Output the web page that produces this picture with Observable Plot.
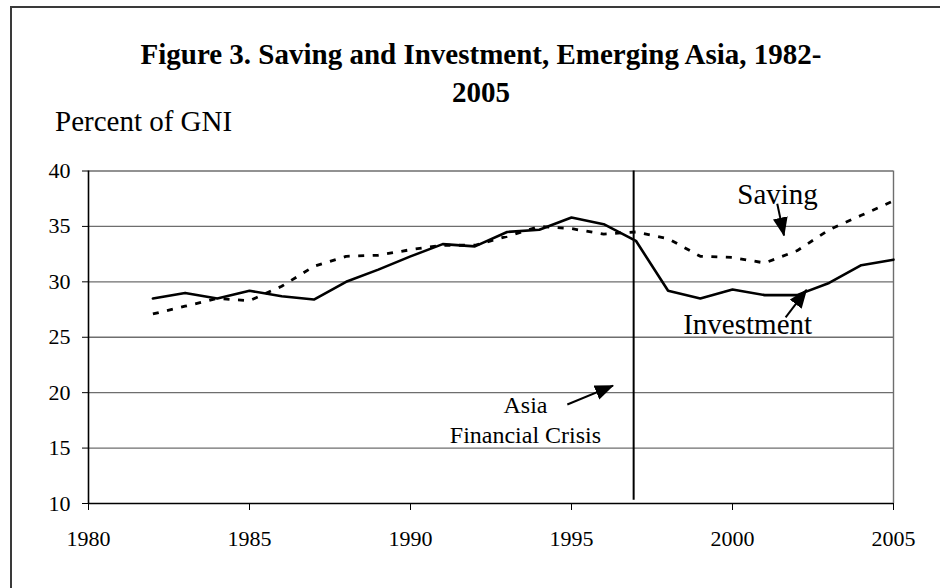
<!DOCTYPE html>
<html>
<head>
<meta charset="utf-8">
<script src="https://cdn.jsdelivr.net/npm/d3@7"></script>
<script src="https://cdn.jsdelivr.net/npm/@observablehq/plot@0.6"></script>
<style>
  html, body { margin: 0; padding: 0; background: #fff; }
  #wrap { position: relative; width: 940px; height: 588px; overflow: hidden; font-family: "Liberation Serif", "Times New Roman", serif; color: #000; }
  #frame { position: absolute; left: 10px; top: 6px; width: 1000px; height: 700px; border-left: 2px solid #3a3a3a; border-top: 2px solid #3a3a3a; }
  #title { position: absolute; left: 0; top: 35px; width: 962px; text-align: center; font-weight: bold; font-size: 29px; line-height: 38px; }
  #ylabel { position: absolute; left: 55px; top: 107px; font-size: 29px; line-height: 29px; white-space: nowrap; }
  #chart { position: absolute; left: 0; top: 0; }
</style>
</head>
<body>
<div id="wrap">
  <div id="frame"></div>
  <div id="chart"></div>
  <div id="title">Figure 3. Saving and Investment, Emerging Asia, 1982-<br>2005</div>
  <div id="ylabel">Percent of GNI</div>
</div>
<script>
// ---- data ----
const years = [1982, 1983, 1984, 1985, 1986, 1987, 1988, 1989, 1990, 1991, 1992, 1993,
               1994, 1995, 1996, 1997, 1998, 1999, 2000, 2001, 2002, 2003, 2004, 2005];
const investment = [28.5, 29.0, 28.5, 29.2, 28.7, 28.4, 30.0, 31.1, 32.3, 33.4, 33.2, 34.5,
                    34.7, 35.8, 35.2, 33.7, 29.2, 28.5, 29.3, 28.8, 28.8, 29.9, 31.5, 32.0];
const saving = [27.1, 27.8, 28.5, 28.3, 29.6, 31.4, 32.3, 32.4, 32.9, 33.3, 33.3, 34.1,
                35.0, 34.8, 34.3, 34.5, 33.9, 32.3, 32.2, 31.7, 32.8, 34.7, 36.0, 37.3];
const xTicks = [1980, 1985, 1990, 1995, 2000, 2005];
const yTicks = [10, 15, 20, 25, 30, 35, 40];
const gridValues = [15, 20, 25, 30, 35, 40];

const crisisYear = [1996.93];
const crisisRange = [10.3, 40];

// annotation labels (data coordinates)
const labelText = ["Saving", "Investment", "Asia\nFinancial Crisis"];
const labelX = [2001.4, 2000.47, 1993.57];
const labelY = [37.9, 26.17, 17.72];
const labelSize = [29, 29, 24];

// annotation arrows (data coordinates)
const arrowX1 = [2001.39, 2001.65, 1994.87];
const arrowY1 = [37.04, 26.8, 18.93];
const arrowX2 = [2001.6, 2002.3, 1996.29];
const arrowY2 = [34.18, 29.28, 20.64];

// ---- tables built from arrays ----
const invData = years.map((y, i) => ({year: y, value: investment[i]}));
const savData = years.map((y, i) => ({year: y, value: saving[i]}));
const labels = labelText.map((t, i) => ({text: t, x: labelX[i], y: labelY[i], size: labelSize[i]}));
const arrows = arrowX1.map((x1, i) => ({x1, y1: arrowY1[i], x2: arrowX2[i], y2: arrowY2[i]}));

const plot = Plot.plot({
  width: 940,
  height: 588,
  marginLeft: 88,
  marginRight: 47,
  marginTop: 170.5,
  marginBottom: 85,
  style: {fontFamily: "'Liberation Serif', 'Times New Roman', serif", fontSize: "22px", background: "transparent", color: "#000", overflow: "visible"},
  x: {domain: [1980, 2005], ticks: xTicks, tickFormat: d => String(d), tickSize: 7, tickPadding: 20, label: null},
  y: {domain: [10, 40], ticks: yTicks, tickSize: 6, tickPadding: 12, label: null},
  marks: [
    Plot.ruleY(gridValues, {stroke: "#6e6e6e", strokeWidth: 1.4}),
    Plot.ruleX([2005], {y1: 10, y2: 40, stroke: "#6e6e6e", strokeWidth: 1.4}),
    Plot.ruleY([10], {stroke: "#000", strokeWidth: 1.6}),
    Plot.ruleX([1980], {y1: 10, y2: 40, stroke: "#000", strokeWidth: 1.6}),
    Plot.ruleX(crisisYear, {y1: crisisRange[0], y2: crisisRange[1], stroke: "#000", strokeWidth: 2}),
    Plot.line(savData, {x: "year", y: "value", stroke: "#000", strokeWidth: 2.8, strokeDasharray: "6,8.5", strokeLinecap: "butt"}),
    Plot.line(invData, {x: "year", y: "value", stroke: "#000", strokeWidth: 2.6}),
    Plot.link(arrows, {x1: "x1", y1: "y1", x2: "x2", y2: "y2", stroke: "#000", strokeWidth: 2}),
    Plot.text(labels.filter(d => d.size === 29), {x: "x", y: "y", text: "text", fontSize: 29, fill: "#000"}),
    Plot.text(labels.filter(d => d.size === 24), {x: "x", y: "y", text: "text", fontSize: 24, lineHeight: 1.25, fill: "#000"})
  ]
});

// filled arrowheads for the annotation links
const svg = d3.select(plot);
const defs = svg.insert("defs", ":first-child");
defs.append("marker")
  .attr("id", "ahead")
  .attr("markerUnits", "userSpaceOnUse")
  .attr("viewBox", "0 -8 19 16")
  .attr("refX", 18)
  .attr("refY", 0)
  .attr("markerWidth", 19)
  .attr("markerHeight", 16)
  .attr("orient", "auto")
  .append("path")
  .attr("d", "M0,-7.5L19,0L0,7.5Z")
  .attr("fill", "#000");
svg.selectAll('g[aria-label="link"] path').attr("marker-end", "url(#ahead)");

document.getElementById("chart").appendChild(plot);
</script>
</body>
</html>
